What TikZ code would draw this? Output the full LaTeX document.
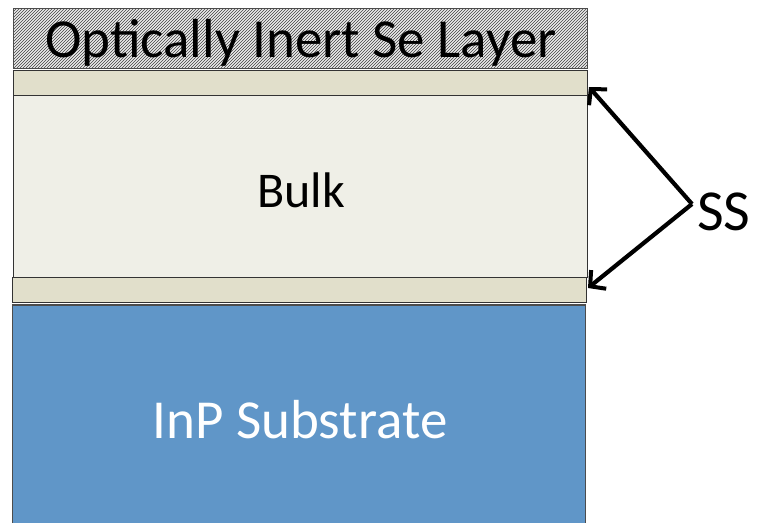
\documentclass[tikz,border=0pt]{standalone}
\usepackage{fontspec}
\setmainfont{Carlito}
\usetikzlibrary{patterns,arrows.meta}
\definecolor{sscol}{HTML}{E1DFCB}
\definecolor{bulkcol}{HTML}{EFEFE7}
\definecolor{subcol}{HTML}{6096C8}
\tikzset{
  layer/.style={draw=black!80, line width=0.8pt},
  ssarrow/.style={line width=4.2pt, -{Straight Barb[length=11pt,width=24pt,line width=4pt]}},
}
\begin{document}
\begin{tikzpicture}[x=1pt,y=-1pt]
\useasboundingbox (0,0) rectangle (757,523);
% hatched Se layer
\fill[gray!15] (13,8) rectangle (587,68);
\fill[pattern=north east lines, pattern color=black!75] (13,8) rectangle (587,68);
\draw[draw=black!70, line width=0.6pt] (13,8) rectangle (587,68);
\node[font=\fontsize{55}{55}\selectfont] (se) at (301,43) {Optically Inert Se Layer};
% top SS
\draw[layer, fill=sscol] (13,70) rectangle (587,95);
\coordinate (sstop) at (589,87);
% bulk
\draw[layer, fill=bulkcol] (13,95) rectangle (587,277);
\node[font=\fontsize{50}{50}\selectfont] (bulk) at (301,190) {Bulk};
% bottom SS
\draw[layer, fill=sscol] (12,277) rectangle (586,302);
\coordinate (ssbot) at (588,288);
% substrate
\fill[black!70] (12,304) rectangle (586,523);
\fill[subcol] (13,306) rectangle (585,523);
\node[font=\fontsize{55}{55}\selectfont, text=white] (inp) at (300,420) {InP Substrate};
% SS label and arrows
\node[font=\fontsize{58}{58}\selectfont, anchor=west, inner sep=0pt] (ss) at (697,212) {SS};
\coordinate (v) at (692,204);
\draw[ssarrow] (v) -- (sstop);
\draw[ssarrow] (v) -- (ssbot);
\end{tikzpicture}
\end{document}
